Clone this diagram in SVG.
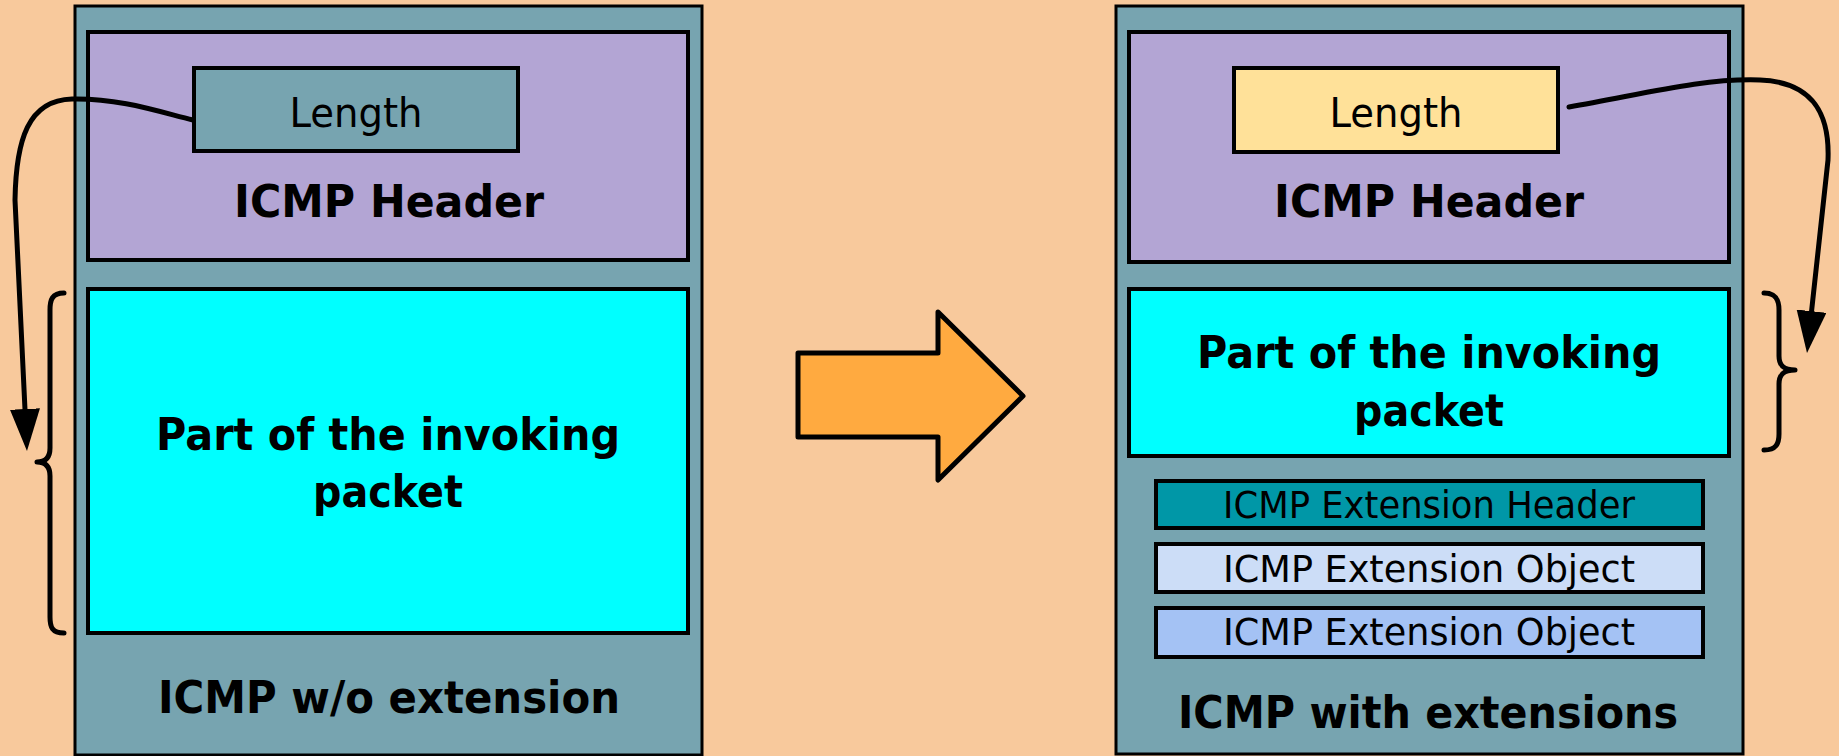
<svg xmlns="http://www.w3.org/2000/svg" width="1839" height="756" viewBox="0 0 1839 756">
  <style>
    .frame { fill: #77A4B0; stroke: #000; stroke-width: 3; }
    .box { stroke: #000; stroke-width: 4; }
    .hdr { fill: #B3A5D4; }
    .payload { fill: #00FFFF; }
    .lenA { fill: #77A4B0; }
    .lenB { fill: #FFE199; }
    .extH { fill: #0097A7; }
    .extO1 { fill: #CCDDF7; }
    .extO2 { fill: #A4C2F4; }
    .t { font-family: "DejaVu Sans", "Liberation Sans", sans-serif; fill: #000; text-anchor: middle; }
    .b { font-weight: bold; font-size: 45px; }
    .r { font-size: 40px; }
    .s { font-size: 37px; }
    .wire { fill: none; stroke: #000; stroke-width: 5; stroke-linecap: round; }
    .brace { fill: none; stroke: #000; stroke-width: 5; stroke-linecap: round; stroke-linejoin: round; }
  </style>
  <defs>
    <marker id="head" markerUnits="userSpaceOnUse" markerWidth="46" markerHeight="32" refX="32" refY="15" orient="auto">
      <path d="M0,0 L42,15 L0,30 z" fill="#000"/>
    </marker>
  </defs>

  <rect width="1839" height="756" fill="#F8C99C"/>

  <!-- packet without extensions -->
  <g id="icmp-plain">
    <rect class="frame" x="75" y="6" width="627" height="749"/>
    <g id="plain-header">
      <rect class="box hdr" x="88" y="32" width="600" height="228"/>
      <text class="t b" x="389" y="217" textLength="310" lengthAdjust="spacingAndGlyphs">ICMP Header</text>
    </g>
    <g id="plain-length">
      <rect class="box lenA" x="194" y="68" width="324" height="83"/>
      <text class="t r" x="356" y="127" textLength="133" lengthAdjust="spacingAndGlyphs">Length</text>
    </g>
    <g id="plain-payload">
      <rect class="box payload" x="88" y="289" width="600" height="344"/>
      <text class="t b" x="388" y="450" textLength="464" lengthAdjust="spacingAndGlyphs">Part of the invoking</text>
      <text class="t b" x="388" y="507" textLength="150" lengthAdjust="spacingAndGlyphs">packet</text>
    </g>
    <text class="t b" x="389" y="713" textLength="462" lengthAdjust="spacingAndGlyphs">ICMP w/o extension</text>
  </g>

  <!-- transition arrow -->
  <g id="transition">
    <path d="M798,353 L938,353 L938,312 L1023,396 L938,480 L938,437 L798,437 z" fill="#FFAA40" stroke="#000" stroke-width="5" stroke-linejoin="round"/>
  </g>

  <!-- packet with extensions -->
  <g id="icmp-ext">
    <rect class="frame" x="1116" y="6" width="627" height="748"/>
    <g id="ext-header">
      <rect class="box hdr" x="1129" y="32" width="600" height="230"/>
      <text class="t b" x="1429" y="217" textLength="310" lengthAdjust="spacingAndGlyphs">ICMP Header</text>
    </g>
    <g id="ext-length">
      <rect class="box lenB" x="1234" y="68" width="324" height="84"/>
      <text class="t r" x="1396" y="127" textLength="133" lengthAdjust="spacingAndGlyphs">Length</text>
    </g>
    <g id="ext-payload">
      <rect class="box payload" x="1129" y="289" width="600" height="167"/>
      <text class="t b" x="1429" y="368" textLength="464" lengthAdjust="spacingAndGlyphs">Part of the invoking</text>
      <text class="t b" x="1429" y="426" textLength="150" lengthAdjust="spacingAndGlyphs">packet</text>
    </g>
    <g id="ext-hdr-block">
      <rect class="box extH" x="1156" y="481" width="547" height="47"/>
      <text class="t s" x="1429" y="518" textLength="412" lengthAdjust="spacingAndGlyphs">ICMP Extension Header</text>
    </g>
    <g id="ext-obj-1">
      <rect class="box extO1" x="1156" y="544" width="547" height="48"/>
      <text class="t s" x="1429" y="582" textLength="412" lengthAdjust="spacingAndGlyphs">ICMP Extension Object</text>
    </g>
    <g id="ext-obj-2">
      <rect class="box extO2" x="1156" y="608" width="547" height="49"/>
      <text class="t s" x="1429" y="645" textLength="412" lengthAdjust="spacingAndGlyphs">ICMP Extension Object</text>
    </g>
    <text class="t b" x="1428" y="728" textLength="500" lengthAdjust="spacingAndGlyphs">ICMP with extensions</text>
  </g>

  <!-- length pointers and payload braces -->
  <g id="connectors">
    <path class="wire" d="M193,120 C160,112 120,98 72,99 C28,100 16,140 15,200 L26.5,441" marker-end="url(#head)"/>
    <path class="brace" d="M64,293 C52,293 50,300 50,310 L50,448 C50,458 45,462 37,462 C45,462 50,466 50,476 L50,617 C50,627 52,633 64,633"/>
    <path class="wire" d="M1569,107 C1640,95 1700,78 1760,80 C1810,82 1830,110 1828,160 L1808.1,343" marker-end="url(#head)"/>
    <path class="brace" d="M1764,293 C1776,293 1779,300 1779,310 L1779,356 C1779,366 1784,370 1795,370 C1784,370 1779,374 1779,384 L1779,434 C1779,444 1776,450 1764,450"/>
  </g>
</svg>
